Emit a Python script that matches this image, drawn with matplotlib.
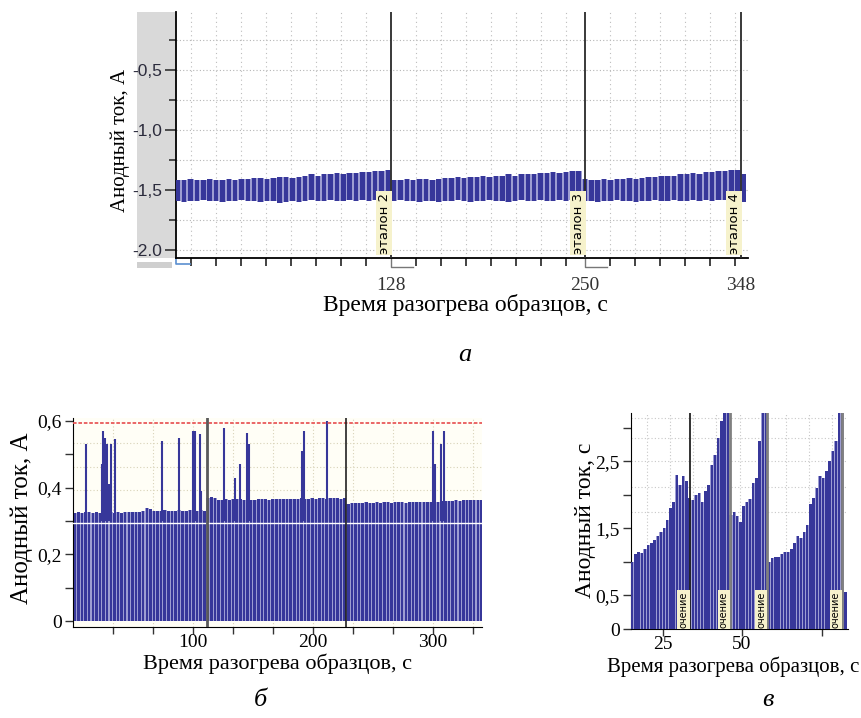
import numpy as np
import matplotlib.pyplot as plt
from matplotlib.patches import Rectangle
from matplotlib.ticker import FixedLocator

# --- панель а: анодный ток, эталоны 2-4 ---
t_a = np.arange(-6, 352, 4)
hi_a = [-1.42, -1.42, -1.41, -1.42, -1.42, -1.41, -1.42, -1.42, -1.41, -1.42, -1.41, -1.41,
        -1.40, -1.40, -1.41, -1.40, -1.39, -1.39, -1.40, -1.39, -1.38, -1.37, -1.38, -1.37,
        -1.37, -1.36, -1.37, -1.36, -1.36, -1.35, -1.35, -1.34, -1.34, -1.33,
        -1.42, -1.42, -1.41, -1.42, -1.41, -1.41, -1.42, -1.41, -1.40, -1.40, -1.39, -1.40,
        -1.39, -1.39, -1.38, -1.39, -1.38, -1.38, -1.37, -1.38, -1.37, -1.37, -1.37, -1.36,
        -1.36, -1.35, -1.36, -1.35, -1.34, -1.34,
        -1.41, -1.42, -1.42, -1.41, -1.42, -1.41, -1.41, -1.40, -1.41, -1.40, -1.39, -1.39,
        -1.38, -1.38, -1.38, -1.37, -1.37, -1.36, -1.37, -1.35, -1.35, -1.34, -1.34, -1.33,
        -1.33, -1.37]
lo_a = [-1.59, -1.60, -1.59, -1.59, -1.58, -1.59, -1.59, -1.60, -1.59, -1.59, -1.58, -1.59,
        -1.59, -1.60, -1.59, -1.59, -1.61, -1.60, -1.59, -1.60, -1.59, -1.58, -1.59, -1.59,
        -1.58, -1.59, -1.59, -1.58, -1.59, -1.58, -1.59, -1.58, -1.58, -1.57,
        -1.59, -1.58, -1.59, -1.59, -1.60, -1.59, -1.59, -1.60, -1.59, -1.59, -1.58, -1.59,
        -1.60, -1.59, -1.59, -1.58, -1.59, -1.59, -1.60, -1.59, -1.58, -1.59, -1.59, -1.58,
        -1.59, -1.59, -1.58, -1.59, -1.58, -1.58,
        -1.59, -1.59, -1.60, -1.59, -1.59, -1.58, -1.59, -1.59, -1.60, -1.59, -1.59, -1.58,
        -1.59, -1.59, -1.58, -1.59, -1.59, -1.58, -1.59, -1.58, -1.59, -1.58, -1.58, -1.59,
        -1.58, -1.60]
marks_a = [128, 250, 348]
names_a = ['эталон 2', 'эталон 3', 'эталон 4']

# --- панель б ---
t_b = np.arange(1.5, 341, 3)
lvl_b1 = [0.325, 0.326, 0.325, 0.327, 0.326, 0.325, 0.326, 0.324, 0.325, 0.326, 0.327, 0.325,
          0.326, 0.325, 0.327, 0.328, 0.327, 0.326, 0.328, 0.330, 0.338, 0.335, 0.330, 0.331,
          0.330, 0.332, 0.331, 0.330, 0.331, 0.332, 0.330, 0.331, 0.332, 0.331, 0.330, 0.332,
          0.331]
lvl_b2 = [0.370, 0.371, 0.369, 0.363, 0.364, 0.365, 0.364, 0.366, 0.365, 0.366, 0.364, 0.365,
          0.363, 0.364, 0.365, 0.366, 0.365, 0.364, 0.366, 0.365, 0.366, 0.367, 0.366, 0.365,
          0.367, 0.366, 0.368, 0.367, 0.366, 0.368, 0.367, 0.369, 0.368, 0.367, 0.368, 0.369,
          0.368, 0.367, 0.368]
lvl_b3 = [0.352, 0.354, 0.353, 0.355, 0.354, 0.356, 0.355, 0.354, 0.356, 0.355, 0.357, 0.356,
          0.355, 0.356, 0.357, 0.356, 0.355, 0.357, 0.356, 0.358, 0.357, 0.356, 0.358, 0.357,
          0.359, 0.358, 0.360, 0.359, 0.361, 0.360, 0.362, 0.361, 0.363, 0.362, 0.364, 0.363,
          0.364, 0.363]
lvl_b = lvl_b1 + lvl_b2 + lvl_b3
spk_x = [11, 24, 25, 27, 28, 30, 32, 35, 74, 88, 100, 102, 106, 107, 126, 135, 139, 145, 147,
         191, 193, 212, 300, 302, 307, 309]
spk_y = [0.53, 0.47, 0.57, 0.55, 0.53, 0.41, 0.53, 0.545, 0.54, 0.55, 0.57, 0.57, 0.56, 0.39,
         0.58, 0.43, 0.47, 0.565, 0.53, 0.51, 0.57, 0.60, 0.57, 0.47, 0.53, 0.57]
marks_b = [112, 228]
limit_b = 0.594
white_b = 0.294

# --- панель в ---
t_c = np.arange(15.5, 83, 1)
top_c = [1.0, 1.12, 1.15, 1.13, 1.2, 1.25, 1.28, 1.32, 1.38, 1.44, 1.5, 1.62, 1.8, 1.9, 2.3,
         2.15, 2.28, 2.2,
         1.95, 1.93, 2.0, 2.03, 1.9, 2.05, 2.15, 2.45, 2.6, 2.85, 3.1, 3.25, 3.25,
         1.7, 1.75, 1.68, 1.6, 1.84, 1.9, 1.94, 2.18, 2.25, 2.8, 3.25, 3.25,
         1.0, 1.06, 1.08, 1.08, 1.12, 1.15, 1.15, 1.2, 1.28, 1.38, 1.35, 1.45, 1.55, 1.87, 1.95,
         2.1, 2.28, 2.25, 2.35, 2.5, 2.65, 2.8, 3.25, 3.25, 0.55]
marks_c = [33.6, 46.2, 57.9, 81.4]

NAVY = '#37379a'
LAV = '#9d9dd2'
SERIF = 'Liberation Serif'
SANS = 'Liberation Sans'

W, H = 862, 718
fig = plt.figure(figsize=(W / 100, H / 100), dpi=100)


def box(l, t, r, b):
    return [l / W, 1 - b / H, (r - l) / W, (b - t) / H]


# серый фон слева от панели а
fig.add_artist(Rectangle((137 / W, 1 - 258 / H), 39 / W, 246 / H, transform=fig.transFigure,
                         color='#d9d9d9', lw=0, zorder=0))
fig.add_artist(Rectangle((137 / W, 1 - 268 / H), 35 / W, 6 / H, transform=fig.transFigure,
                         color='#cfcfcf', lw=0, zorder=0))

# ---------------- а ----------------
ax = fig.add_axes(box(176, 12, 748, 258))
ax.set_xlim(-7.2, 352.5)
ax.set_ylim(-2.067, -0.017)
ax.fill_between(t_a, lo_a, hi_a, step='mid', color=LAV, lw=0, zorder=2)
ax.bar(t_a, np.array(hi_a) - np.array(lo_a), bottom=lo_a, width=2.8, color=NAVY, lw=0, zorder=3)
for m, name in zip(marks_a, names_a):
    ax.axvline(m, color='#2a2a2a', lw=1.3, zorder=4)
    ax.text(m - 4.3, -2.03, name, rotation=90, ha='center', va='bottom', fontsize=9.5,
            family='DejaVu Sans', zorder=5,
            bbox=dict(facecolor='#f6f2cc', edgecolor='none', pad=1.2))
for m in marks_a[:2]:
    ax.plot([m, m, m + 14], [-2.067, -2.14, -2.14], color='#777777', lw=1, clip_on=False)
ax.plot([-7, -7, 1.5], [-2.067, -2.12, -2.12], color='#5b8fd0', lw=1.2, clip_on=False)

ticks_a = np.concatenate([128 - 15.7 * np.arange(1, 9), 128 + 15.7 * np.arange(1, 8),
                          250 + 15.7 * np.arange(1, 7)])
ax.set_xticks(marks_a)
ax.set_xticklabels([str(m) for m in marks_a], family=SERIF, fontsize=14, color='#333333')
ax.tick_params(axis='x', which='major', length=0, pad=14)
ax.xaxis.set_minor_locator(FixedLocator(ticks_a))
ax.tick_params(axis='x', which='minor', length=6, width=1.2, color='#222222')
ax.set_yticks([-2.0, -1.5, -1.0, -0.5])
ax.set_yticklabels(['-2.0', '-1,5', '-1,0', '-0,5'], family=SANS, fontsize=12.5, color='#2b2b3c')
ax.yaxis.set_minor_locator(FixedLocator([-1.75, -1.25, -0.75, -0.25]))
ax.tick_params(axis='y', which='major', length=8, width=1.2, color='#333333', pad=2)
ax.tick_params(axis='y', which='minor', length=5, width=1.2, color='#333333')
for v in [-2.0, -1.75, -1.5, -1.25, -1.0, -0.75, -0.5, -0.25]:
    ax.axhline(v, color='#b5b5b5', lw=0.8, ls=(0, (1, 2)), zorder=1)
for v in ticks_a:
    ax.axvline(v, color='#bdbdbd', lw=0.8, ls=(0, (1, 3)), zorder=1)
for s in ['top', 'right']:
    ax.spines[s].set_visible(False)
ax.spines['left'].set_linewidth(1.3)
ax.spines['bottom'].set_linewidth(1.3)

fig.text(120 / W, 1 - 140 / H, 'Анодный ток, А', rotation=90, ha='center', va='center',
         family=SERIF, fontsize=15)
fig.text(465 / W, 1 - 305 / H, 'Время разогрева образцов, с', ha='center', va='center',
         family=SERIF, fontsize=17)
fig.text(465 / W, 1 - 355 / H, 'а', ha='center', va='center', family=SERIF, style='italic',
         fontsize=19)

# ---------------- б ----------------
bx = fig.add_axes(box(73, 418, 482, 627))
bx.set_facecolor('#fffef6')
bx.set_xlim(0, 341)
bx.set_ylim(-0.018, 0.609)
bx.fill_between(t_b, 0, lvl_b, step='mid', color=LAV, lw=0, zorder=2)
bx.bar(t_b, lvl_b, width=2.1, color=NAVY, lw=0, zorder=3)
bx.vlines(spk_x, 0.3, spk_y, color=NAVY, lw=1.5, zorder=3)
bx.axhline(white_b, color='white', lw=1, zorder=4)
bx.axhline(limit_b, color='#e85a5a', lw=1.3, ls=(0, (2, 1)), zorder=4)
bx.axvline(marks_b[0], color='#5a5a5a', lw=2, zorder=4)
bx.axvline(marks_b[1], color='#222222', lw=1.2, zorder=4)
for v in [0.393, 0.462, 0.534]:
    bx.axhline(v, color='#d8d3b8', lw=0.8, ls=(0, (1, 2)), zorder=1)
for v in np.arange(1, 11) * 100 / 3:
    bx.axvline(v, color='#d8d3b8', lw=0.8, ls=(0, (1, 2)), zorder=1)
bx.set_xticks([100, 200, 300])
bx.set_xticklabels(['100', '200', '300'], family=SERIF, fontsize=14)
bx.xaxis.set_minor_locator(FixedLocator(np.arange(1, 11) * 100 / 3))
bx.set_yticks([0, 0.2, 0.4, 0.6])
bx.set_yticklabels(['0', '0,2', '0,4', '0,6'], family=SERIF, fontsize=14)
bx.yaxis.set_minor_locator(FixedLocator([0.1, 0.3, 0.5]))
bx.tick_params(which='both', length=6, width=1, color='#333333', pad=2)
bx.tick_params(axis='x', which='both', length=5, pad=0)
for s in ['top', 'right']:
    bx.spines[s].set_visible(False)

fig.text(22 / W, 1 - 518 / H, 'Анодный ток, А', rotation=90, ha='center', va='center',
         family=SERIF, fontsize=18)
fig.text(278 / W, 1 - 664 / H, 'Время разогрева образцов, с', ha='center', va='center',
         family=SERIF, fontsize=16)
fig.text(260 / W, 1 - 700 / H, 'б', ha='center', va='center', family=SERIF, style='italic',
         fontsize=19)

# ---------------- в ----------------
cx = fig.add_axes(box(631, 413, 848, 629))
cx.set_xlim(15.1, 83.3)
cx.set_ylim(0, 3.22)
cx.fill_between(t_c, 0, top_c, step='mid', color=LAV, lw=0, zorder=2)
cx.bar(t_c, top_c, width=0.72, color=NAVY, lw=0, zorder=3)
cx.axvline(marks_c[0], color='#222222', lw=1.3, zorder=4)
for m in marks_c[1:]:
    cx.axvline(m, color='#808080', lw=2, zorder=4)
for m in marks_c:
    cx.text(m - 1.9, 0.02, 'очение', rotation=90, ha='center', va='bottom', fontsize=7,
            family='DejaVu Sans', zorder=5,
            bbox=dict(facecolor='#f6f2cc', edgecolor='none', pad=1))
for v in [1.75, 2.12, 2.5, 2.85, 3.15]:
    cx.axhline(v, color='#c8c8c8', lw=0.8, ls=(0, (1, 2)), zorder=1)
for v in [20, 27.3, 34.6, 41.9, 49.2, 56.5, 63.8, 71.1, 78.4]:
    cx.axvline(v, color='#c8c8c8', lw=0.8, ls=(0, (1, 2)), zorder=1)
cx.set_xticks([25, 50, 75])
cx.set_xticklabels(['25', '50', ''], family=SERIF, fontsize=14)
cx.set_yticks([0, 0.5, 1.5, 2.5])
cx.set_yticklabels(['0', '0,5', '1,5', '2,5'], family=SERIF, fontsize=14)
cx.yaxis.set_minor_locator(FixedLocator([1.0, 2.0, 3.0]))
cx.tick_params(which='both', length=6, width=1, color='#333333', pad=2)
cx.tick_params(axis='x', which='both', length=5, pad=0)
for s in ['top', 'right']:
    cx.spines[s].set_visible(False)

fig.text(586 / W, 1 - 520 / H, 'Анодный ток, с', rotation=90, ha='center', va='center',
         family=SERIF, fontsize=17)
fig.text(607 / W, 1 - 667 / H, 'Время разогрева образцов, с', ha='left', va='center',
         family=SERIF, fontsize=15)
fig.text(768 / W, 1 - 700 / H, 'в', ha='center', va='center', family=SERIF, style='italic',
         fontsize=19)

fig.savefig('out.png', dpi=100)
